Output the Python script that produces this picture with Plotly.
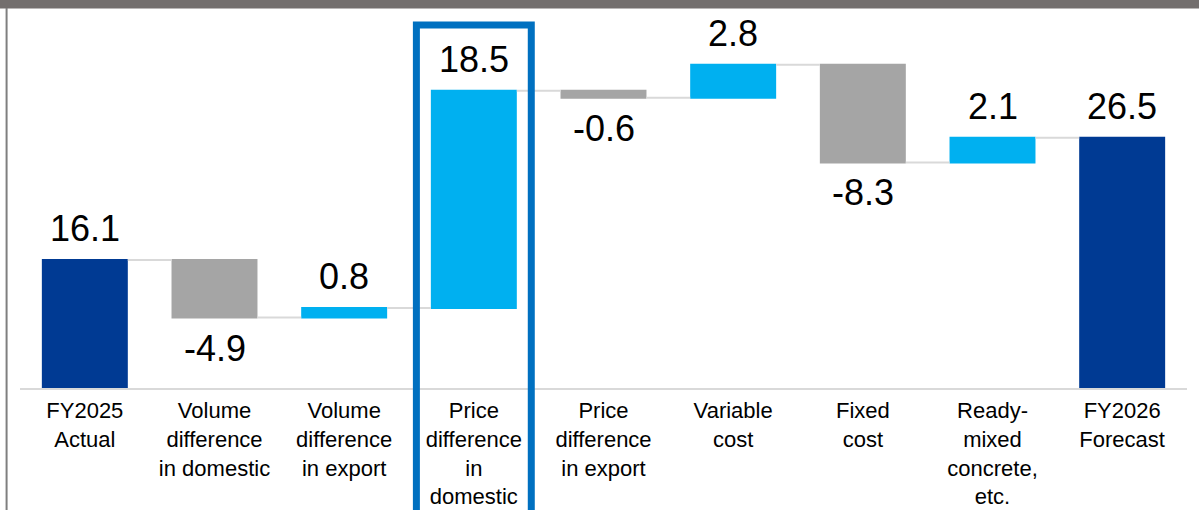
import numpy as np
import plotly.graph_objects as go

categories = ["FY2025<br>Actual", "Volume<br>difference<br>in domestic", "Volume<br>difference<br>in export",
              "Price<br>difference<br>in<br>domestic", "Price<br>difference<br>in export", "Variable<br>cost",
              "Fixed<br>cost", "Ready-<br>mixed<br>concrete,<br>etc.", "FY2026<br>Forecast"]
values = [16.1, -4.9, 0.8, 18.5, -0.6, 2.8, -8.3, 2.1, 26.5]
measures = ["absolute", "relative", "relative", "relative", "relative", "relative", "relative", "relative", "total"]
labels = ["16.1", "-4.9", "0.8", "18.5", "-0.6", "2.8", "-8.3", "2.1", "26.5"]

NAVY = "#003A93"
UP = "#00B0F0"
DOWN = "#A5A5A5"
FONT = "Liberation Sans, Arial, sans-serif"

fig = go.Figure(go.Waterfall(
    x=categories,
    y=[v if m != "total" else 0 for v, m in zip(values, measures)],
    measure=measures,
    increasing=dict(marker=dict(color=UP)),
    decreasing=dict(marker=dict(color=DOWN)),
    totals=dict(marker=dict(color=NAVY)),
    connector=dict(line=dict(color="#D9D9D9", width=2), mode="between"),
    hoverinfo="skip",
))

# label positions
ends = []
run = 0.0
for v, m in zip(values, measures):
    if m == "absolute":
        run = v
        ends.append((run, True))
    elif m == "total":
        ends.append((run, True))
    else:
        run = run + v
        ends.append((run, v >= 0))

annotations = []
for cat, lab, (yv, up) in zip(categories, labels, ends):
    annotations.append(dict(
        x=cat, y=yv, xref="x", yref="y", text=lab, showarrow=False,
        font=dict(family=FONT, size=36, color="#000000"),
        yanchor="bottom" if up else "top",
        yshift=9 if up else -8,
    ))

shapes = [
    # top band
    dict(type="rect", xref="paper", yref="paper", x0=-0.03, x1=1.03, y0=0.9985, y1=1.03,
         fillcolor="#736F6E", line=dict(width=0), layer="above"),
    # left vertical line
    dict(type="line", xref="paper", yref="paper", x0=-0.0115, x1=-0.0115, y0=1.0, y1=-0.33,
         line=dict(color="#7F7F7F", width=2)),
    # highlight box
    dict(type="rect", xref="x", yref="paper", x0=2.557, x1=3.443, y0=-0.33, y1=0.955,
         line=dict(color="#0070C0", width=7), fillcolor="rgba(0,0,0,0)", layer="above"),
]

fig.update_layout(
    width=1199, height=510,
    margin=dict(l=20, r=12, t=8, b=122, autoexpand=False),
    paper_bgcolor="white", plot_bgcolor="white",
    showlegend=False,
    waterfallgap=0.337,
    font=dict(family=FONT, color="#000000"),
    xaxis=dict(showline=True, linecolor="#D9D9D9", linewidth=2, showgrid=False, ticks="",
               automargin=False, ticklabelstandoff=2,
               tickfont=dict(family=FONT, size=22, color="#000000"), fixedrange=True),
    yaxis=dict(range=[5.2, 37.54], showticklabels=False, showgrid=False, zeroline=False,
               showline=False, fixedrange=True, automargin=False),
    annotations=annotations,
    shapes=shapes,
)

fig.write_html("out.html", config={"displayModeBar": False},
               post_script="document.body.style.margin='0';document.body.style.padding='0';")
